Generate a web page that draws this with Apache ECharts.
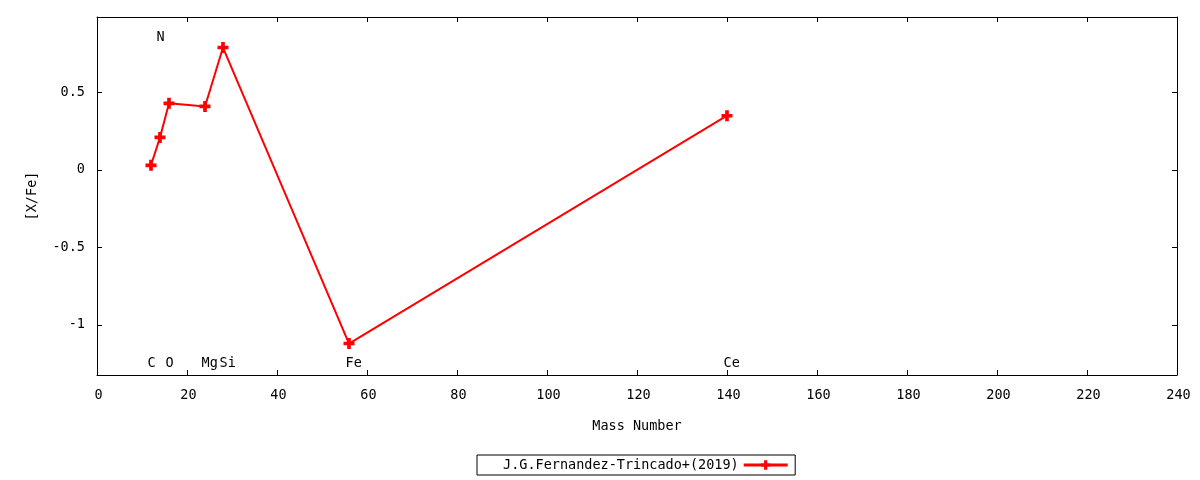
<!DOCTYPE html>
<html>
<head>
<meta charset="utf-8">
<script src="https://cdn.jsdelivr.net/npm/echarts@6/dist/echarts.min.js"></script>
<style>
html,body{margin:0;padding:0;background:#fff;}
#chart{width:1200px;height:480px;}
</style>
</head>
<body>
<div id="chart"></div>
<script>
// ---- data ----
const elements = ['C', 'N', 'O', 'Mg', 'Si', 'Fe', 'Ce'];
const massNumbers = [12, 14, 16, 24, 28, 56, 140];
const xFe = [0.03, 0.21, 0.43, 0.41, 0.79, -1.12, 0.35];
const topLabels = ['N'];              // element labels drawn near the top
const labelYBottom = -1.25;           // [X/Fe] level of bottom element labels
const labelYTop = 0.85;               // [X/Fe] level of top element labels
const xTicks = [0, 20, 40, 60, 80, 100, 120, 140, 160, 180, 200, 220, 240];
const yTicks = [-1, -0.5, 0, 0.5];
const seriesName = 'J.G.Fernandez-Trincado+(2019)';
const xRange = [0, 240];
const yRange = [-1.323, 0.987];

// ---- chart ----
const FONT = 'DejaVu Sans Mono';
const FS = 13.5;
const chart = echarts.init(document.getElementById('chart'), null, {renderer: 'canvas'});

const lineData = massNumbers.map((m, i) => [m, xFe[i]]);
const labelData = elements.map((e, i) => ({
  value: [massNumbers[i], topLabels.includes(e) ? labelYTop : labelYBottom],
  name: e
}));

const plusPath = 'path://M4,0H8V4H12V8H8V12H4V8H0V4H4Z';
const axisLine = {show: true, onZero: false, lineStyle: {color: '#000', width: 1}};
const tick = {show: true, inside: true, length: 5, lineStyle: {color: '#000', width: 1}};
const labelStyle = {color: '#000', fontFamily: FONT, fontSize: FS};

const option = {
  backgroundColor: '#fff',
  animation: false,
  grid: {left: 97, right: 23, top: 17, bottom: 105, containLabel: false},
  legend: {
    show: true,
    data: [seriesName],
    left: 477,
    top: 455,
    orient: 'horizontal',
    align: 'right',
    borderColor: '#000',
    borderWidth: 1,
    borderRadius: 0,
    padding: [3, 6, 3, 26],
    itemWidth: 44,
    itemHeight: 12,
    lineStyle: {width: 3},
    textStyle: {color: '#000', fontFamily: FONT, fontSize: FS},
    selectedMode: false
  },
  xAxis: [
    {
      type: 'value', position: 'bottom',
      min: xRange[0], max: xRange[1], interval: 20,
      name: 'Mass Number', nameLocation: 'middle', nameGap: 44,
      nameTextStyle: labelStyle,
      axisLine: axisLine, axisTick: tick,
      axisLabel: Object.assign({margin: 13, customValues: xTicks, padding: [0, 0, 0, 3]}, labelStyle),
      splitLine: {show: false}
    },
    {
      type: 'value', position: 'top',
      min: xRange[0], max: xRange[1], interval: 20,
      axisLine: axisLine, axisTick: tick,
      axisLabel: {show: false}, splitLine: {show: false}
    }
  ],
  yAxis: [
    {
      type: 'value', position: 'left',
      min: yRange[0], max: yRange[1],
      name: '[X/Fe]', nameLocation: 'middle', nameGap: 58, nameRotate: 90,
      nameTextStyle: labelStyle,
      axisLine: axisLine,
      axisTick: Object.assign({customValues: yTicks}, tick),
      axisLabel: Object.assign({margin: 12, customValues: yTicks}, labelStyle),
      splitLine: {show: false}
    },
    {
      type: 'value', position: 'right',
      min: yRange[0], max: yRange[1],
      axisLine: axisLine,
      axisTick: Object.assign({customValues: yTicks}, tick),
      axisLabel: {show: false}, splitLine: {show: false}
    }
  ],
  series: [
    {
      name: seriesName,
      type: 'line',
      xAxisIndex: 0, yAxisIndex: 0,
      data: lineData,
      symbol: plusPath,
      symbolSize: 11,
      showAllSymbol: true,
      itemStyle: {color: '#ff0000'},
      lineStyle: {color: '#ff0000', width: 2},
      z: 3
    },
    {
      name: 'labels',
      type: 'scatter',
      xAxisIndex: 0, yAxisIndex: 0,
      data: labelData,
      symbol: 'circle',
      symbolSize: 1,
      silent: true,
      itemStyle: {color: 'rgba(0,0,0,0)', opacity: 1},
      label: {
        show: true,
        position: [0, 0],
        formatter: p => p.name,
        color: '#000',
        opacity: 1,
        textBorderWidth: 0,
        fontFamily: FONT,
        fontSize: FS,
        align: 'left',
        verticalAlign: 'middle',
        offset: [-3, 0]
      }
    }
  ]
};
chart.setOption(option);
</script>
</body>
</html>
